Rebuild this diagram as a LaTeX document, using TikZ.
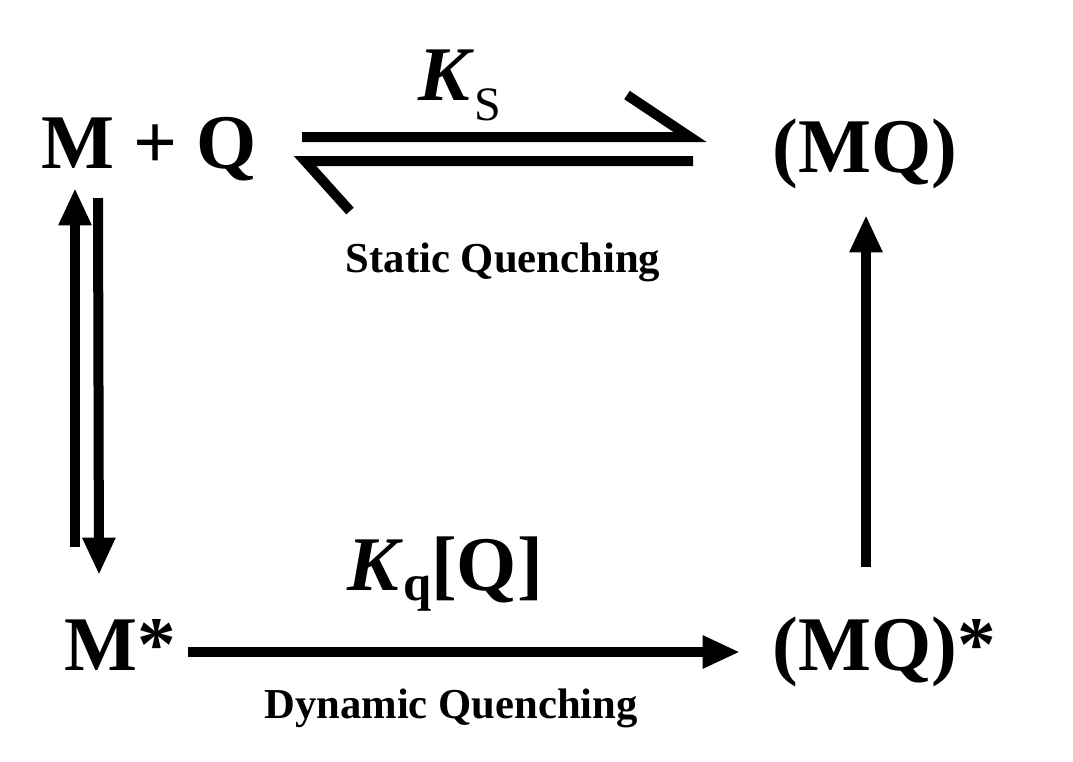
\documentclass[tikz,border=0pt]{standalone}
\usepackage{fontspec}
\setmainfont{Liberation Serif}
\usetikzlibrary{arrows.meta}

\begin{document}
\begin{tikzpicture}[
    x=0.75pt, y=-0.75pt,
    species/.style={font=\fontsize{58}{60}\selectfont\bfseries, inner sep=0pt, anchor=base},
    caption/.style={font=\fontsize{32}{34}\selectfont\bfseries, inner sep=0pt, anchor=base},
    harp/.style={line width=7.5pt, line join=miter},
    arrow/.style={-{Triangle[length=28pt, width=23pt]}, line width=7.5pt}
]
    \useasboundingbox (0,0) rectangle (1073,761);

    % Species at the four corners
    \node (free) [species] at (149,168) {M + Q};
    \node (cplx) [species] at (865,172) {(MQ)};
    \node (mstar) [species] at (120,670) {M*};
    \node (cplxstar) [species] at (884,670) {(MQ)*};

    % Rate constants and captions
    \node (ks) [species] at (460,100) {\textit{K}\raisebox{-15pt}{\fontsize{36}{36}\selectfont\mdseries S}};
    \node (static) [caption] at (503,272) {Static Quenching};
    \node (kq) [species] at (445,590) {\textit{K}\raisebox{-7.5pt}{\fontsize{38}{38}\selectfont q}[Q]};
    \node (dynamic) [caption] at (451,718) {Dynamic Quenching};

    % Arrow end points
    \coordinate (sa) at (302,137);
    \coordinate (sb) at (690,137);
    \coordinate (sc) at (693,161);
    \coordinate (sd) at (305,161);
    \coordinate (ua) at (75,547);
    \coordinate (ub) at (75,188);
    \coordinate (da) at (98,198);
    \coordinate (db) at (99,575);
    \coordinate (ra) at (866,567);
    \coordinate (rb) at (866,215);
    \coordinate (ba) at (188,652);
    \coordinate (bb) at (740,652);

    % Static equilibrium (harpoons)
    \draw [harp] (sa) -- (sb) -- ++(-63,-42);
    \draw [harp] (sc) -- (sd) -- ++(45,50);

    % Excitation / decay
    \draw [arrow] (ua) -- (ub);
    \draw [arrow] (da) -- (db);

    % Dynamic quenching and complex decay
    \draw [arrow] (ba) -- (bb);
    \draw [arrow] (ra) -- (rb);

\end{tikzpicture}
\end{document}
